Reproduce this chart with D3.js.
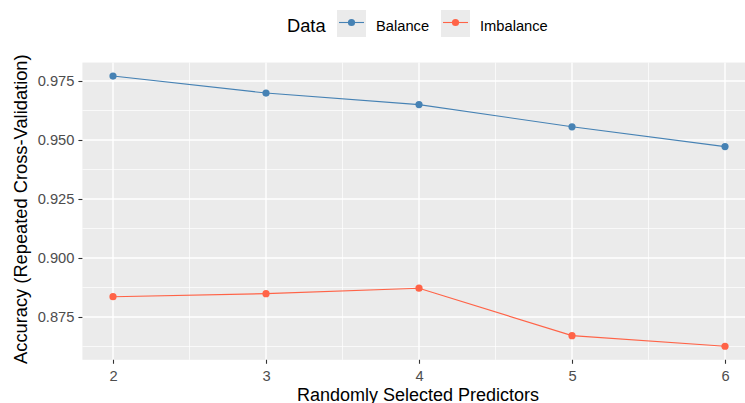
<!DOCTYPE html>
<html>
<head>
<meta charset="utf-8">
<script src="https://cdn.jsdelivr.net/npm/d3@7"></script>
<style>
  html, body { margin: 0; padding: 0; background: #ffffff; }
  svg { display: block; font-family: "Liberation Sans", Arial, sans-serif; }
</style>
</head>
<body>
<svg id="chart" width="745" height="403"></svg>
<script>
// Number of randomly selected predictors (mtry)
const predictors = [2, 3, 4, 5, 6];
// Repeated cross-validation accuracy per data set
const balanceAcc = [0.9771, 0.9699, 0.9650, 0.9556, 0.9472];
const imbalanceAcc = [0.8836, 0.8849, 0.8872, 0.8671, 0.8626];
const seriesNames = ["Balance", "Imbalance"];
const seriesColors = ["#4682B4", "#FF6347"];
const yTicks = [0.875, 0.900, 0.925, 0.950, 0.975];
const yMinor = [0.8625, 0.8875, 0.9125, 0.9375, 0.9625];
const xMinor = [2.5, 3.5, 4.5, 5.5];

const series = [balanceAcc, imbalanceAcc].map((vals, i) => ({
  name: seriesNames[i],
  color: seriesColors[i],
  points: predictors.map((p, j) => ({ x: p, y: vals[j] }))
}));

const svg = d3.select("#chart");

// Panel extents with a 5% padding on both scales
const xExt = d3.extent(predictors);
const xPad = (xExt[1] - xExt[0]) * 0.05;
const allY = balanceAcc.concat(imbalanceAcc);
const yExt = d3.extent(allY);
const yPad = (yExt[1] - yExt[0]) * 0.05;

const pxPerX = 153;
const pxPerY = 2360;
const panelLeft = 113 - xPad * pxPerX;
const panelRight = 113 + (xExt[1] - xExt[0] + xPad) * pxPerX;
const panelTop = 81 - (yExt[1] + yPad - 0.975) * pxPerY;
const panelBottom = 81 + (0.975 - (yExt[0] - yPad)) * pxPerY;

const x = d3.scaleLinear().domain([xExt[0] - xPad, xExt[1] + xPad]).range([panelLeft, panelRight]);
const y = d3.scaleLinear().domain([yExt[0] - yPad, yExt[1] + yPad]).range([panelBottom, panelTop]);

// Panel background
svg.append("rect")
  .attr("x", panelLeft).attr("y", panelTop)
  .attr("width", panelRight - panelLeft).attr("height", panelBottom - panelTop)
  .attr("fill", "#EBEBEB");

const grid = svg.append("g");
// Minor grid
grid.selectAll(".ymin").data(yMinor).join("line")
  .attr("x1", panelLeft).attr("x2", panelRight)
  .attr("y1", d => y(d)).attr("y2", d => y(d))
  .attr("stroke", "#fff").attr("stroke-width", 0.7);
grid.selectAll(".xmin").data(xMinor).join("line")
  .attr("y1", panelTop).attr("y2", panelBottom)
  .attr("x1", d => x(d)).attr("x2", d => x(d))
  .attr("stroke", "#fff").attr("stroke-width", 0.7);
// Major grid
grid.selectAll(".ymaj").data(yTicks).join("line")
  .attr("x1", panelLeft).attr("x2", panelRight)
  .attr("y1", d => y(d)).attr("y2", d => y(d))
  .attr("stroke", "#fff").attr("stroke-width", 1.4);
grid.selectAll(".xmaj").data(predictors).join("line")
  .attr("y1", panelTop).attr("y2", panelBottom)
  .attr("x1", d => x(d)).attr("x2", d => x(d))
  .attr("stroke", "#fff").attr("stroke-width", 1.4);

// Axes
const xAxis = svg.append("g")
  .attr("transform", `translate(0,${panelBottom})`)
  .call(d3.axisBottom(x).tickValues(predictors).tickFormat(d3.format("d")).tickSize(4).tickPadding(7));
const yAxis = svg.append("g")
  .attr("transform", `translate(${panelLeft},0)`)
  .call(d3.axisLeft(y).tickValues(yTicks).tickFormat(d3.format(".3f")).tickSize(4).tickPadding(4));
[xAxis, yAxis].forEach(a => {
  a.select(".domain").remove();
  a.selectAll(".tick line").attr("stroke", "#333333").attr("stroke-width", 1.1);
  a.selectAll(".tick text")
    .attr("fill", "#4D4D4D")
    .style("font-size", "14.7px")
    .style("font-family", "'Liberation Sans', Arial, sans-serif");
});

// Lines and points
const line = d3.line().x(d => x(d.x)).y(d => y(d.y));
const plot = svg.append("g");
series.forEach(s => {
  plot.append("path")
    .datum(s.points)
    .attr("d", line)
    .attr("fill", "none")
    .attr("stroke", s.color)
    .attr("stroke-width", 1.1);
  plot.selectAll(null).data(s.points).join("circle")
    .attr("cx", d => x(d.x)).attr("cy", d => y(d.y))
    .attr("r", 3.6)
    .attr("fill", s.color);
});

// Axis titles
svg.append("text")
  .attr("x", (panelLeft + panelRight) / 2 - 1).attr("y", 400.5)
  .attr("text-anchor", "middle")
  .style("font-size", "18px")
  .attr("fill", "#000")
  .text("Randomly Selected Predictors");
svg.append("text")
  .attr("transform", `translate(27,${(panelTop + panelBottom) / 2 - 2}) rotate(-90)`)
  .attr("text-anchor", "middle")
  .style("font-size", "18.3px")
  .attr("fill", "#000")
  .text("Accuracy (Repeated Cross-Validation)");

// Legend
const legend = svg.append("g");
legend.append("text")
  .attr("x", 287).attr("y", 32)
  .style("font-size", "18.3px")
  .attr("fill", "#000")
  .text("Data");
const keyX = [337, 441];
series.forEach((s, i) => {
  const kx = keyX[i];
  legend.append("rect")
    .attr("x", kx).attr("y", 10).attr("width", 29).attr("height", 27)
    .attr("fill", "#EBEBEB");
  legend.append("line")
    .attr("x1", kx + 2).attr("x2", kx + 27)
    .attr("y1", 22.5).attr("y2", 22.5)
    .attr("stroke", s.color).attr("stroke-width", 1.1);
  legend.append("circle")
    .attr("cx", kx + 14.5).attr("cy", 22.5).attr("r", 3.6)
    .attr("fill", s.color);
  legend.append("text")
    .attr("x", kx + 39).attr("y", 31)
    .style("font-size", "14.7px")
    .attr("fill", "#000")
    .text(s.name);
});
</script>
</body>
</html>
